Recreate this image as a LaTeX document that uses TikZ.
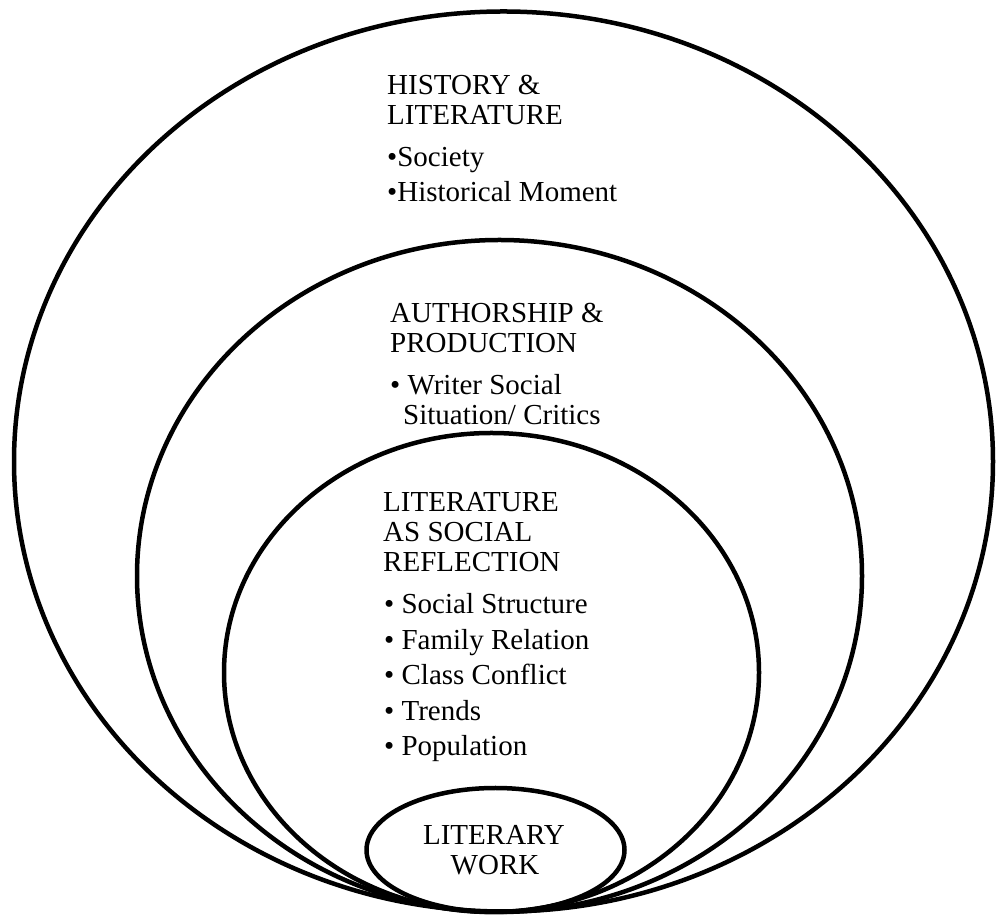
\documentclass[tikz,border=0pt]{standalone}
\usepackage{fontspec}
\setmainfont{Liberation Serif}
\begin{document}
\begin{tikzpicture}[x=1pt,y=1pt,
  ring/.style={line width=4.5pt},
  txt/.style={anchor=base west, inner sep=0pt, font=\fontsize{29}{30}\selectfont},
  ctxt/.style={anchor=base, inner sep=0pt, font=\fontsize{29}{30}\selectfont}]
\useasboundingbox (0,0) rectangle (996,918);
% nested rings
\draw[ring] (503.5,456.5) ellipse [x radius=489.5, y radius=450];
\draw[ring] (499.5,342) ellipse [x radius=362.5, y radius=336];
\draw[ring] (491.5,245.5) ellipse [x radius=267.5, y radius=239.5];
\draw[ring] (495.5,68) ellipse [x radius=129, y radius=62];
% outer block
\node[txt] (h1) at (387,823) {HISTORY \&};
\node[txt] (h2) at (387,793) {LITERATURE};
\node[txt] (h3) at (387,751) {•Society};
\node[txt] (h4) at (387,716) {•Historical Moment};
% second block
\node[txt] (a1) at (390,595) {AUTHORSHIP \&};
\node[txt] (a2) at (390,565) {PRODUCTION};
\node[txt] (a3) at (390,523) {• Writer Social};
\node[txt] (a4) at (403,493) {Situation/ Critics};
% third block
\node[txt] (l1) at (383,406) {LITERATURE};
\node[txt] (l2) at (383,376) {AS SOCIAL};
\node[txt] (l3) at (383,346) {REFLECTION};
\node[txt] (b1) at (384,304) {• Social Structure};
\node[txt] (b2) at (384,268.5) {• Family Relation};
\node[txt] (b3) at (384,233) {• Class Conflict};
\node[txt] (b4) at (384,197.5) {• Trends};
\node[txt] (b5) at (384,162) {• Population};
% core
\node[ctxt] (w1) at (494,73) {LITERARY};
\node[ctxt] (w2) at (495,43) {WORK};
\end{tikzpicture}
\end{document}
